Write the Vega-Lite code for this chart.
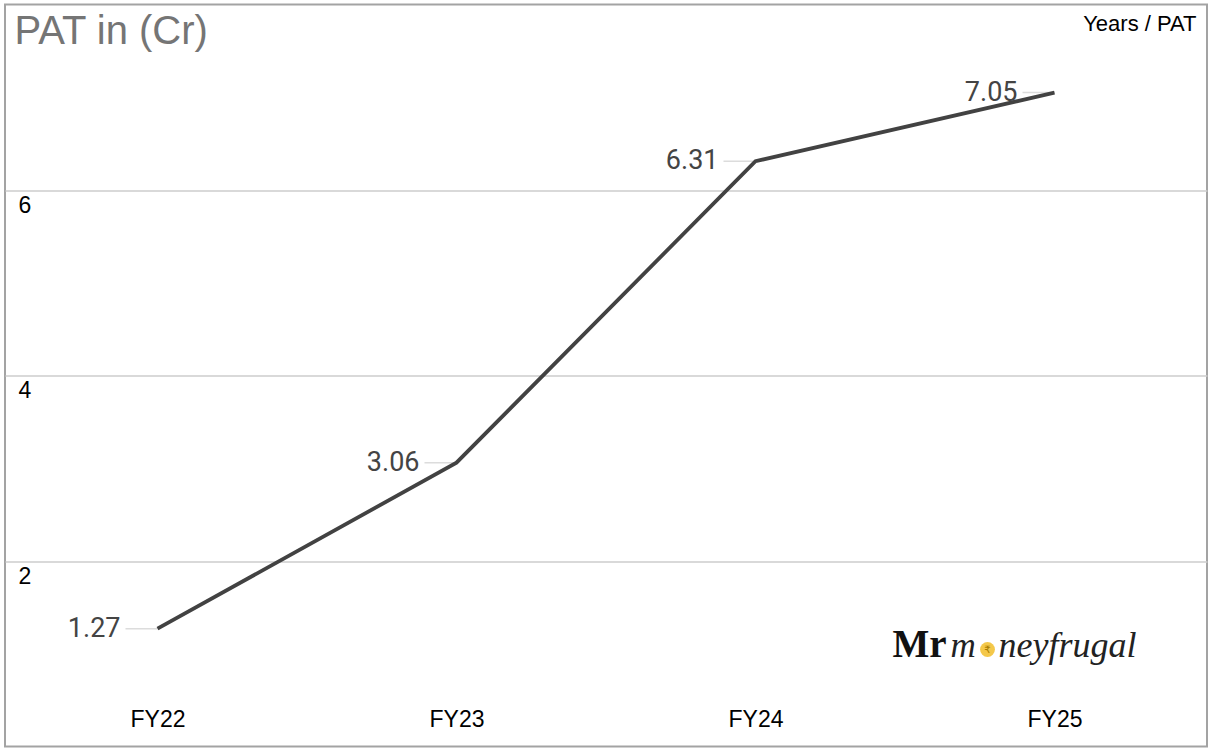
{
  "$schema": "https://vega.github.io/schema/vega-lite/v6.json",
  "autosize": {"type": "none"},
  "width": 1202,
  "height": 742,
  "padding": {"left": 5, "top": 4.5, "right": 9, "bottom": 3.5},
  "background": "white",
  "config": {
    "view": {"stroke": "#a3a3a3", "strokeWidth": 2},
    "font": "Liberation Sans"
  },
  "data": {
    "values": [
      {"FY": "FY22", "PAT": 1.27},
      {"FY": "FY23", "PAT": 3.06},
      {"FY": "FY24", "PAT": 6.31},
      {"FY": "FY25", "PAT": 7.05}
    ]
  },
  "encoding": {
    "x": {
      "field": "FY",
      "type": "ordinal",
      "sort": null,
      "scale": {"type": "point", "padding": 0.51},
      "axis": {
        "title": null,
        "orient": "bottom",
        "domain": false,
        "ticks": false,
        "tickSize": 0,
        "grid": false,
        "labelAngle": 0,
        "labelPadding": -38,
        "labelFontSize": 23,
        "labelColor": "#000000",
        "labelFont": "Liberation Sans"
      }
    },
    "y": {
      "field": "PAT",
      "type": "quantitative",
      "scale": {"domain": [0, 8], "nice": false, "zero": true},
      "axis": {
        "title": null,
        "values": [2, 4, 6],
        "domain": false,
        "ticks": false,
        "tickSize": 0,
        "grid": true,
        "gridColor": "#cccccc",
        "gridWidth": 1.5,
        "labelAlign": "left",
        "labelBaseline": "top",
        "labelPadding": -13,
        "labelOffset": 4,
        "labelFontSize": 23,
        "labelColor": "#000000",
        "labelFont": "Liberation Sans"
      }
    }
  },
  "layer": [
    {
      "mark": {"type": "rule", "color": "#dcdcdc", "strokeWidth": 1.5, "xOffset": -32, "x2Offset": 0},
      "encoding": {"x2": {"field": "FY"}}
    },
    {
      "mark": {"type": "line", "color": "#424242", "strokeWidth": 3.8}
    },
    {
      "mark": {"type": "text", "align": "right", "baseline": "middle", "dx": -37, "fontSize": 27, "font": "Roboto", "color": "#444444"},
      "encoding": {"text": {"field": "PAT", "type": "quantitative", "format": ".2f"}}
    },
    {
      "transform": [{"filter": "datum.FY == 'FY25'"}],
      "mark": {"type": "text", "align": "left", "baseline": "alphabetic", "dx": -143, "dy": 39, "fontSize": 40, "color": "#757575", "font": "Liberation Sans"},
      "encoding": {
        "x": {"datum": "FY22", "type": "ordinal"},
        "y": {"datum": 8, "type": "quantitative"},
        "text": {"value": "PAT in (Cr)"}
      }
    },
    {
      "transform": [{"filter": "datum.FY == 'FY25'"}],
      "mark": {"type": "text", "align": "right", "baseline": "alphabetic", "dx": 142, "dy": 26, "fontSize": 22, "color": "#000000", "font": "Liberation Sans"},
      "encoding": {
        "x": {"datum": "FY25", "type": "ordinal"},
        "y": {"datum": 8, "type": "quantitative"},
        "text": {"value": "Years / PAT"}
      }
    },
    {
      "transform": [{"filter": "datum.FY == 'FY25'"}],
      "mark": {"type": "text", "align": "left", "baseline": "alphabetic", "dx": -162, "fontSize": 39, "fontWeight": "bold", "font": "Liberation Serif", "color": "#111111"},
      "encoding": {
        "x": {"datum": "FY25", "type": "ordinal"},
        "y": {"datum": 0.96, "type": "quantitative"},
        "text": {"value": "Mr"}
      }
    },
    {
      "transform": [{"filter": "datum.FY == 'FY25'"}],
      "mark": {"type": "text", "align": "left", "baseline": "alphabetic", "dx": -104, "fontSize": 35, "fontStyle": "italic", "font": "Liberation Serif", "color": "#222222"},
      "encoding": {
        "x": {"datum": "FY25", "type": "ordinal"},
        "y": {"datum": 0.96, "type": "quantitative"},
        "text": {"value": "m"}
      }
    },
    {
      "transform": [{"filter": "datum.FY == 'FY25'"}],
      "mark": {"type": "point", "shape": "circle", "filled": true, "color": "#f4c84a", "opacity": 1, "size": 220, "xOffset": -67, "yOffset": -8},
      "encoding": {
        "x": {"datum": "FY25", "type": "ordinal"},
        "y": {"datum": 0.96, "type": "quantitative"}
      }
    },
    {
      "transform": [{"filter": "datum.FY == 'FY25'"}],
      "mark": {"type": "text", "align": "center", "baseline": "middle", "dx": -67, "dy": -7, "fontSize": 10, "color": "#a67c00", "font": "DejaVu Sans"},
      "encoding": {
        "x": {"datum": "FY25", "type": "ordinal"},
        "y": {"datum": 0.96, "type": "quantitative"},
        "text": {"value": "₹"}
      }
    },
    {
      "transform": [{"filter": "datum.FY == 'FY25'"}],
      "mark": {"type": "text", "align": "left", "baseline": "alphabetic", "dx": -56, "fontSize": 36, "fontStyle": "italic", "font": "Liberation Serif", "color": "#222222"},
      "encoding": {
        "x": {"datum": "FY25", "type": "ordinal"},
        "y": {"datum": 0.96, "type": "quantitative"},
        "text": {"value": "neyfrugal"}
      }
    }
  ]
}
